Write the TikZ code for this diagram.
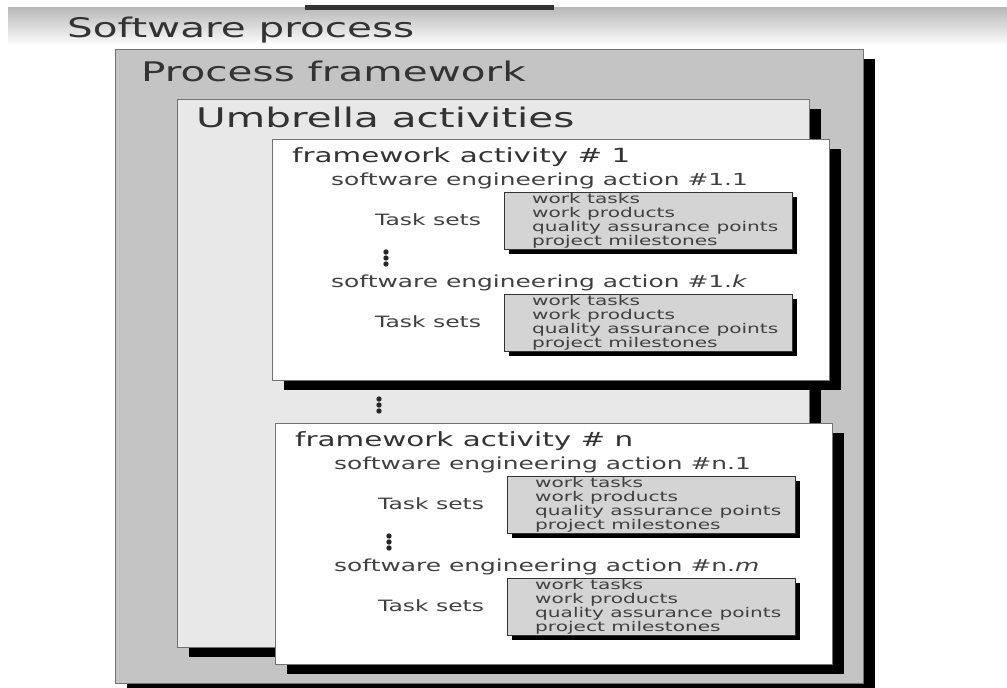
\documentclass[tikz,border=0pt]{standalone}
\usepackage{fontspec}
\newfontfamily\figfont[FakeStretch=1.5]{DejaVu Sans}
\usetikzlibrary{shadows}

\begin{document}
\begin{tikzpicture}[x=1pt,y=-1pt,
    frame/.style={draw=black!55,line width=1.2pt,anchor=north west,inner sep=0pt,
        drop shadow={shadow xshift=11pt,shadow yshift=-9pt,opacity=1,fill=black}},
    taskbox/.style={draw=black!80,fill=black!17,line width=0.8pt,anchor=north west,
        minimum width=288pt,minimum height=57pt,inner sep=0pt,
        drop shadow={shadow xshift=5pt,shadow yshift=-5pt,opacity=1,fill=black}},
    title/.style={anchor=base west,inner sep=0pt,text=black!80,font=\figfont\fontsize{27}{30}\selectfont},
    falabel/.style={anchor=base west,inner sep=0pt,text=black!80,font=\figfont\fontsize{19.6}{22}\selectfont},
    action/.style={anchor=base west,inner sep=0pt,text=black!75,font=\figfont\fontsize{16.6}{19}\selectfont},
    tasks/.style={anchor=base west,inner sep=0pt,text=black!75,font=\figfont\fontsize{15.6}{18}\selectfont},
    items/.style={anchor=west,inner sep=0pt,align=left,text=black!75,font=\figfont\fontsize{13.4}{13.8}\selectfont}]
    \useasboundingbox (0,0) rectangle (1007,688);
    % header band
    \shade[top color=black!28,bottom color=white] (8,7) rectangle (1007,46);
    \fill[black!80] (305,5) rectangle (554,10);
    \node[title] (sp) at (67,37) {Software process};

    \node[frame,fill=black!23,minimum width=748pt,minimum height=634pt] (pf) at (115,49) {};
    \node[title] (pft) at (141,81) {Process framework};
    \node[frame,fill=black!9,minimum width=632pt,minimum height=548pt] (ua) at (177,99) {};
    \node[title] (uat) at (196,127) {Umbrella activities};

    \foreach \id/\px/\py/\last in {1/272/139/1.\textit{k},n/275/423/n.\textit{m}}{
        \begin{scope}[shift={(\px,\py)}]
            \node[frame,fill=white,minimum width=557pt,minimum height=241pt] (fa\id) at (0,0) {};
            \node[falabel] (fat\id) at (20,23) {framework activity \# \id};
            \foreach \act/\dy/\txt in {a/0/\id.1,b/102/\last}{
                \node[action] (ac\id\act) at (59,{46+\dy}) {software engineering action \#\txt};
                \node[tasks] (tk\id\act) at (103,{86+\dy}) {Task sets};
                \node[taskbox] (tb\id\act) at (232,{53+\dy}) {};
                \node[items] (it\id\act) at ([xshift=28pt]tb\id\act.west)
                    {work tasks\\work products\\quality assurance points\\project milestones};
            }
            \foreach \k in {0,1,2}
                \fill[black!85] (114,{113+6*\k}) circle (2.7pt);
        \end{scope}
    }
    \foreach \k in {0,1,2}
        \fill[black!85] (379,{399+6*\k}) circle (2.7pt);
\end{tikzpicture}
\end{document}
